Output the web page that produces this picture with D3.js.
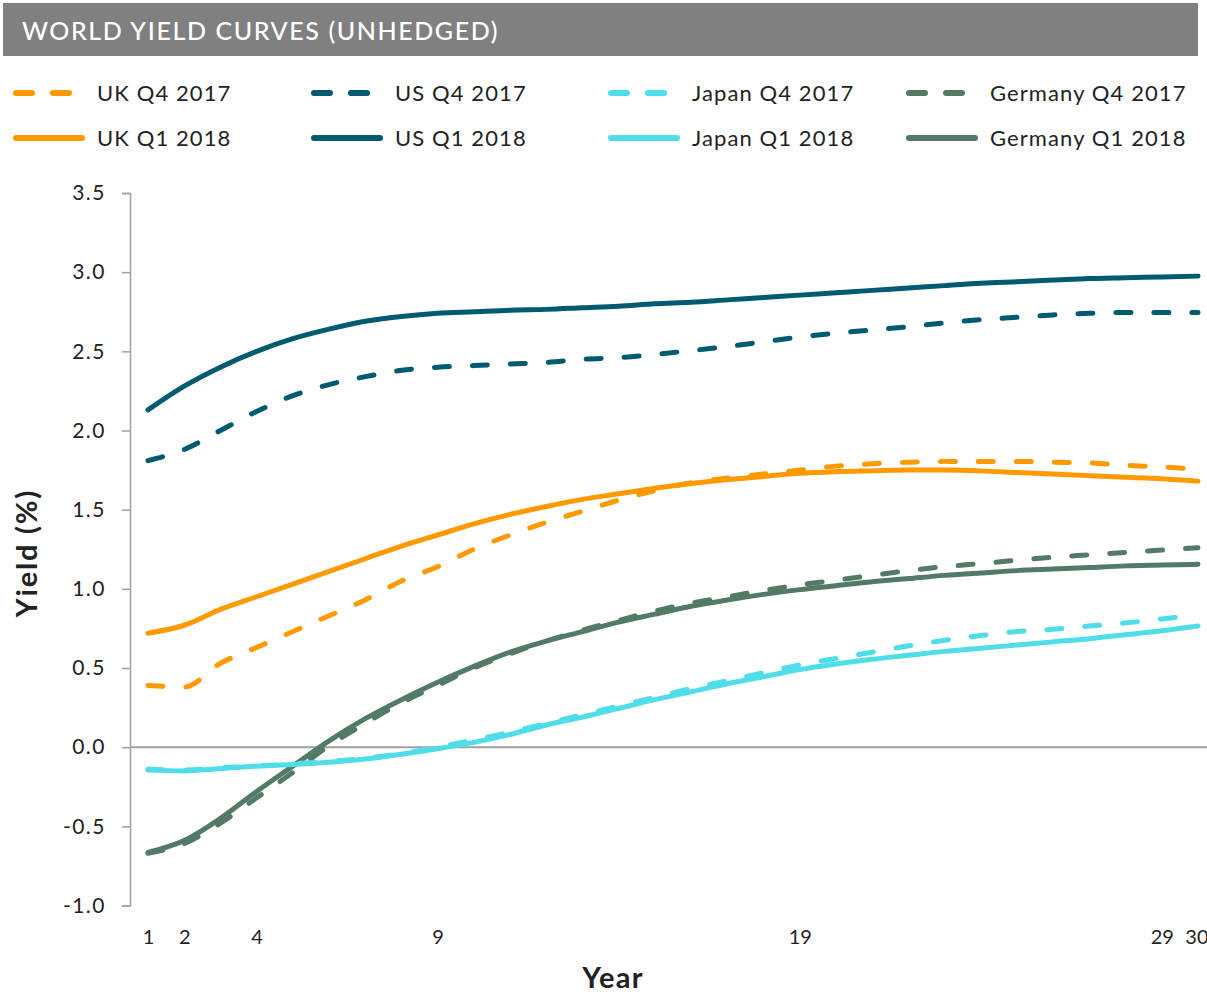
<!DOCTYPE html>
<html>
<head>
<meta charset="utf-8">
<script src="https://cdn.jsdelivr.net/npm/d3@7"></script>
<style>
  html, body { margin: 0; padding: 0; background: #fff; }
  svg { display: block; }
  text { font-family: "Lato", "Liberation Sans", Arial, sans-serif; }
</style>
</head>
<body>
<svg id="chart" width="1207" height="997"></svg>
<script>
// Maturities in years
const years = d3.range(1, 31);
const xTickLabels = [1, 2, 4, 9, 19, 29, 30];
const yTicks = [-1.0, -0.5, 0.0, 0.5, 1.0, 1.5, 2.0, 2.5, 3.0, 3.5];

// Yields (%) by maturity, one array per curve
const ukQ4 = [0.39, 0.38, 0.53, 0.63, 0.73, 0.83, 0.93, 1.05, 1.14, 1.25, 1.34, 1.42, 1.49, 1.56, 1.62,
              1.67, 1.70, 1.725, 1.75, 1.775, 1.79, 1.80, 1.805, 1.805, 1.805, 1.80, 1.795, 1.78, 1.77, 1.755];
const usQ4 = [1.81, 1.88, 2.00, 2.12, 2.22, 2.29, 2.34, 2.38, 2.40, 2.41, 2.42, 2.43, 2.45, 2.46, 2.48,
              2.505, 2.53, 2.56, 2.59, 2.615, 2.635, 2.655, 2.68, 2.70, 2.715, 2.73, 2.74, 2.745, 2.745, 2.745];
const japanQ4 = [-0.14, -0.145, -0.13, -0.12, -0.105, -0.09, -0.07, -0.04, 0.0, 0.045, 0.095, 0.15, 0.205, 0.26, 0.315,
                 0.37, 0.42, 0.47, 0.52, 0.56, 0.60, 0.64, 0.675, 0.705, 0.73, 0.745, 0.765, 0.785, 0.81, 0.835];
const germanyQ4 = [-0.67, -0.61, -0.48, -0.32, -0.16, 0.01, 0.15, 0.28, 0.39, 0.50, 0.59, 0.67, 0.74, 0.80, 0.86,
                   0.91, 0.95, 0.99, 1.025, 1.055, 1.085, 1.115, 1.14, 1.16, 1.18, 1.20, 1.215, 1.23, 1.245, 1.26];
const ukQ1 = [0.72, 0.77, 0.87, 0.95, 1.03, 1.11, 1.19, 1.27, 1.34, 1.41, 1.47, 1.52, 1.565, 1.60, 1.635,
              1.665, 1.69, 1.71, 1.73, 1.74, 1.745, 1.75, 1.75, 1.745, 1.735, 1.725, 1.715, 1.705, 1.695, 1.68];
const usQ1 = [2.13, 2.28, 2.40, 2.50, 2.58, 2.64, 2.69, 2.72, 2.74, 2.75, 2.76, 2.765, 2.775, 2.785, 2.80,
              2.81, 2.825, 2.84, 2.855, 2.87, 2.885, 2.90, 2.915, 2.93, 2.94, 2.95, 2.96, 2.965, 2.97, 2.975];
const japanQ1 = [-0.145, -0.15, -0.135, -0.12, -0.11, -0.095, -0.075, -0.045, -0.01, 0.03, 0.08, 0.14, 0.19, 0.245, 0.30,
                 0.35, 0.40, 0.445, 0.49, 0.525, 0.555, 0.58, 0.605, 0.625, 0.645, 0.665, 0.685, 0.71, 0.735, 0.765];
const germanyQ1 = [-0.665, -0.59, -0.45, -0.28, -0.12, 0.04, 0.18, 0.30, 0.41, 0.51, 0.60, 0.67, 0.73, 0.79, 0.84,
                   0.89, 0.93, 0.965, 0.995, 1.02, 1.045, 1.065, 1.085, 1.10, 1.115, 1.125, 1.135, 1.145, 1.15, 1.155];

const seriesNames = ["UK Q4 2017", "US Q4 2017", "Japan Q4 2017", "Germany Q4 2017",
                     "UK Q1 2018", "US Q1 2018", "Japan Q1 2018", "Germany Q1 2018"];
const seriesValues = [ukQ4, usQ4, japanQ4, germanyQ4, ukQ1, usQ1, japanQ1, germanyQ1];

const colors = { UK: "#ff9900", US: "#005a70", Japan: "#4fdde9", Germany: "#527a66" };
const series = seriesNames.map((name, i) => ({
  name,
  values: seriesValues[i],
  color: colors[name.split(" ")[0]],
  dashed: name.includes("Q4")
}));

const svg = d3.select("#chart");

// Title bar
svg.append("rect").attr("x", 3).attr("y", 3).attr("width", 1195).attr("height", 53).attr("fill", "#808080");
svg.append("text").attr("x", 22).attr("y", 40)
  .attr("fill", "#fff").attr("font-size", 25).attr("font-weight", 500)
  .attr("letter-spacing", 1.6)
  .text("WORLD YIELD CURVES (UNHEDGED)");

// Legend: 2 rows x 4 columns
const legendCols = [13, 311, 608, 906];
const legendRows = [93, 138];
const legend = svg.append("g");
series.forEach((s, i) => {
  const col = i % 4, row = Math.floor(i / 4);
  const gx = legendCols[col], gy = legendRows[row];
  legend.append("line")
    .attr("x1", gx + 3).attr("x2", gx + 69).attr("y1", gy).attr("y2", gy)
    .attr("stroke", s.color).attr("stroke-width", 6).attr("stroke-linecap", "round")
    .attr("stroke-dasharray", s.dashed ? "16 21" : null);
  legend.append("text")
    .attr("x", gx + 84).attr("y", gy + 8)
    .attr("font-size", 22).attr("fill", "#222").attr("letter-spacing", 1.1)
    .text(s.name);
});

// Scales
const x = d3.scaleLinear().domain([1, 30]).range([148, 1198]);
const y = d3.scaleLinear().domain([-1.0, 3.5]).range([905.5, 193]);

// Y axis
const yAxis = svg.append("g").attr("transform", "translate(130,0)")
  .call(d3.axisLeft(y).tickValues(yTicks).tickFormat(d3.format(".1f")).tickSize(8).tickPadding(16));
yAxis.select(".domain").attr("stroke", "#a0a0a0").attr("stroke-width", 1.5);
yAxis.selectAll(".tick line").attr("stroke", "#a0a0a0").attr("stroke-width", 1.5);
yAxis.selectAll(".tick text")
  .attr("font-size", 21).attr("fill", "#222").attr("letter-spacing", 1.5)
  .attr("font-family", "Lato, 'Liberation Sans', Arial, sans-serif")
  .text(d => d3.format(".1f")(d).replace("−", "-"));

// Zero line
svg.append("line")
  .attr("x1", 130).attr("x2", 1207).attr("y1", y(0)).attr("y2", y(0))
  .attr("stroke", "#a0a0a0").attr("stroke-width", 2);

// X axis labels only (no axis line)
const xAxis = svg.append("g").attr("transform", "translate(0,905.5)")
  .call(d3.axisBottom(x).tickValues(xTickLabels).tickFormat(d3.format("d")).tickSize(0).tickPadding(24));
xAxis.select(".domain").remove();
xAxis.selectAll(".tick text")
  .attr("font-size", 20).attr("fill", "#222")
  .attr("font-family", "Lato, 'Liberation Sans', Arial, sans-serif");
// keep the last label inside the page edge
xAxis.selectAll(".tick text").filter(d => d === 30)
  .attr("text-anchor", "end").attr("dx", 10);

// Axis titles
svg.append("text").attr("x", 613).attr("y", 988).attr("text-anchor", "middle")
  .attr("font-size", 29).attr("font-weight", 700).attr("fill", "#222")
  .attr("letter-spacing", 1.2)
  .attr("font-family", "'Liberation Sans', Arial, sans-serif")
  .text("Year");
svg.append("text")
  .attr("transform", "translate(37,553) rotate(-90)")
  .attr("text-anchor", "middle")
  .attr("font-size", 29).attr("font-weight", 700).attr("fill", "#222")
  .attr("letter-spacing", 1.8)
  .attr("font-family", "'Liberation Sans', Arial, sans-serif")
  .text("Yield (%)");

// Curves
const line = d3.line()
  .x((d, i) => x(years[i]))
  .y(d => y(d))
  .curve(d3.curveMonotoneX);

const drawOrder = [4, 0, 5, 1, 7, 3, 6, 2];
svg.append("g").selectAll("path")
  .data(drawOrder.map(i => series[i]))
  .join("path")
  .attr("d", s => line(s.values))
  .attr("fill", "none")
  .attr("stroke", s => s.color)
  .attr("stroke-width", 5)
  .attr("stroke-linecap", "round")
  .attr("stroke-linejoin", "round")
  .attr("stroke-dasharray", s => s.dashed ? "15 23" : null);
</script>
</body>
</html>
